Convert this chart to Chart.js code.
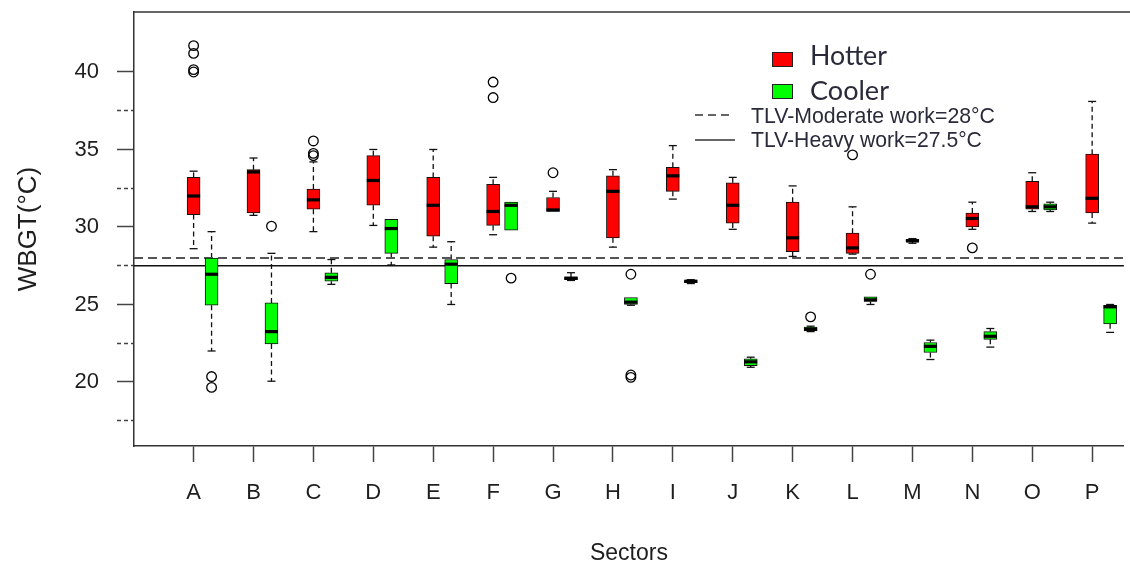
<!DOCTYPE html>
<html><head><meta charset="utf-8">
<script src="https://cdn.jsdelivr.net/npm/chart.js@4.4.1/dist/chart.umd.min.js"></script>
<style>html,body{margin:0;padding:0;background:#fff;}canvas{display:block;}</style>
</head><body>
<canvas id="c" width="1130" height="567"></canvas>
<script>
// ---------- data ----------
const categories = ['A','B','C','D','E','F','G','H','I','J','K','L','M','N','O','P'];

const hotterMin    = [28.6, 30.75, 29.7, 30.1, 28.7, 29.5, 31.0, 28.7, 31.8, 29.85, 28.1, 28.25, 28.95, 29.85, 31.0, 30.25];
const hotterQ1     = [30.8, 30.9, 31.15, 31.4, 29.4, 30.1, 31.0, 29.3, 32.3, 30.25, 28.4, 28.3, 29.05, 30.0, 31.15, 30.9];
const hotterMedian = [32.0, 33.55, 31.75, 33.0, 31.4, 31.0, 31.1, 32.3, 33.3, 31.4, 29.3, 28.65, 29.1, 30.55, 31.3, 31.85];
const hotterQ3     = [33.2, 33.7, 32.45, 34.6, 33.2, 32.75, 31.9, 33.3, 33.85, 32.85, 31.6, 29.6, 29.2, 30.9, 32.95, 34.7];
const hotterMax    = [33.6, 34.45, 34.2, 35.0, 35.0, 33.2, 32.3, 33.7, 35.25, 33.2, 32.65, 31.3, 29.25, 31.6, 33.5, 38.1];
const hotterOutliers = [[41.7, 41.2, 40.15, 40.0], [], [35.55, 34.75, 34.6], [], [], [39.35, 38.35], [33.5], [], [], [], [], [34.65], [], [28.65], [], []];

const coolerMin    = [22.0, 20.05, 26.3, 27.55, 25.0, 29.8, 26.55, 24.95, 26.35, 20.95, 23.25, 25.0, 21.45, 22.25, 31.0, 23.2];
const coolerQ1     = [24.95, 22.45, 26.5, 28.3, 26.35, 29.8, 26.6, 25.0, 26.4, 21.05, 23.3, 25.2, 21.9, 22.75, 31.1, 23.75];
const coolerMedian = [26.95, 23.25, 26.75, 29.9, 27.6, 31.4, 26.7, 25.15, 26.5, 21.3, 23.4, 25.3, 22.3, 22.95, 31.3, 24.85];
const coolerQ3     = [28.0, 25.1, 27.05, 30.5, 27.9, 31.6, 26.75, 25.45, 26.55, 21.5, 23.55, 25.5, 22.55, 23.25, 31.5, 24.95];
const coolerMax    = [29.7, 28.3, 27.9, 30.5, 29.05, 31.6, 27.05, 25.45, 26.6, 21.6, 23.6, 25.5, 22.7, 23.45, 31.6, 25.0];
const coolerOutliers = [[20.35, 19.65], [30.05], [], [], [], [26.7], [], [26.95, 20.45, 20.3], [], [], [24.2], [26.95], [], [], [], []];

const yTickValues = [17.5, 20, 22.5, 25, 27.5, 30, 32.5, 35, 37.5, 40];
const tlvModerate = 28;
const tlvHeavy = 27.5;
const seriesNames = ['Hotter', 'Cooler'];
const tlvLabels = ['TLV-Moderate work=28\u00B0C', 'TLV-Heavy work=27.5\u00B0C'];

// ---------- layout / style ----------
const COOLER_OFFSET = 0.3;
const X_MIN = -0.995, X_MAX = 15.53;
const Y_MIN = 15.87, Y_MAX = 43.87;
const RED = '#FF0000', GREEN = '#00FF00';
const AXIS_COLOR = '#333';
const TEXT_COLOR = '#1e1e1e';
const FONT = "'Liberation Sans', Arial, sans-serif";

const hotterBoxes = categories.map((c, i) => ({x: i, y: [hotterQ1[i], hotterQ3[i]]}));
const coolerBoxes = categories.map((c, i) => ({x: i + COOLER_OFFSET, y: [coolerQ1[i], coolerQ3[i]]}));
const outlierPts = [];
hotterOutliers.forEach((arr, i) => arr.forEach(v => outlierPts.push({x: i, y: v})));
coolerOutliers.forEach((arr, i) => arr.forEach(v => outlierPts.push({x: i + COOLER_OFFSET, y: v})));

const groups = [
  {off: 0, min: hotterMin, med: hotterMedian, q1: hotterQ1, q3: hotterQ3, max: hotterMax},
  {off: COOLER_OFFSET, min: coolerMin, med: coolerMedian, q1: coolerQ1, q3: coolerQ3, max: coolerMax}
];
const BOX_HALF = 6.5, CAP_HALF = 4;

const boxParts = {
  id: 'boxParts',
  beforeDatasetsDraw(chart) {
    const {ctx, scales: {x, y}} = chart;
    ctx.save();
    ctx.strokeStyle = '#111';
    ctx.lineWidth = 1.3;
    groups.forEach(g => {
      categories.forEach((c, i) => {
        const px = x.getPixelForValue(i + g.off);
        const segs = [[g.q3[i], g.max[i]], [g.q1[i], g.min[i]]];
        segs.forEach(([a, b]) => {
          const pa = y.getPixelForValue(a), pb = y.getPixelForValue(b);
          if (Math.abs(pa - pb) < 0.5) return;
          ctx.setLineDash([5, 3.5]);
          ctx.beginPath(); ctx.moveTo(px, pa); ctx.lineTo(px, pb); ctx.stroke();
          ctx.setLineDash([]);
          ctx.beginPath(); ctx.moveTo(px - CAP_HALF, pb); ctx.lineTo(px + CAP_HALF, pb); ctx.stroke();
        });
      });
    });
    ctx.restore();
  },
  afterDatasetsDraw(chart) {
    const {ctx, scales: {x, y}} = chart;
    ctx.save();
    ctx.strokeStyle = '#000';
    ctx.lineWidth = 3.2;
    groups.forEach(g => {
      categories.forEach((c, i) => {
        const px = x.getPixelForValue(i + g.off);
        const py = y.getPixelForValue(g.med[i]);
        ctx.beginPath(); ctx.moveTo(px - BOX_HALF, py); ctx.lineTo(px + BOX_HALF, py); ctx.stroke();
      });
    });
    ctx.restore();
  }
};

function fitFont(ctx, text, family, weight, target, base) {
  ctx.font = `${weight} ${base}px ${family}`;
  const w = ctx.measureText(text).width;
  return base * target / w;
}

const frameAndLegend = {
  id: 'frameAndLegend',
  afterDraw(chart) {
    const {ctx, chartArea} = chart;
    ctx.save();
    // top frame line
    ctx.strokeStyle = AXIS_COLOR; ctx.lineWidth = 1.5;
    ctx.beginPath(); ctx.moveTo(chartArea.left, chartArea.top); ctx.lineTo(chart.width, chartArea.top); ctx.stroke();

    // legend
    const tc = '#2a2a3a';
    ctx.textBaseline = 'middle'; ctx.textAlign = 'left';
    const swatches = [[RED, 52, 56], [GREEN, 84, 91]];
    swatches.forEach(([col, ry, ty], k) => {
      ctx.fillStyle = col; ctx.fillRect(772, ry, 20, 14);
      ctx.strokeStyle = '#222'; ctx.lineWidth = 1; ctx.strokeRect(772.5, ry + 0.5, 20, 14);
      const fs = fitFont(ctx, seriesNames[k], "Lato, 'Open Sans', sans-serif", 'normal', k === 0 ? 77 : 79, 24);
      ctx.font = `${fs}px Lato, 'Open Sans', sans-serif`;
      ctx.fillStyle = tc; ctx.fillText(seriesNames[k], 810, ty);
    });
    ctx.strokeStyle = '#333'; ctx.lineWidth = 1.5;
    ctx.setLineDash([8, 5]);
    ctx.beginPath(); ctx.moveTo(695, 115); ctx.lineTo(734, 115); ctx.stroke();
    ctx.setLineDash([]);
    ctx.beginPath(); ctx.moveTo(695, 140); ctx.lineTo(735, 140); ctx.stroke();
    const targets = [244, 231], ys = [117, 141];
    tlvLabels.forEach((t, k) => {
      const fs = fitFont(ctx, t, FONT, 'normal', targets[k], 17);
      ctx.font = `${fs}px ${FONT}`;
      ctx.fillStyle = tc; ctx.fillText(t, 751, ys[k]);
    });
    ctx.restore();
  }
};

function noPad(s) { s.paddingTop = 0; s.paddingBottom = 0; s.paddingLeft = 0; s.paddingRight = 0; }

new Chart(document.getElementById('c'), {
  type: 'bar',
  data: {
    datasets: [
      {type: 'scatter', label: 'outliers', data: outlierPts, pointStyle: 'circle', radius: 4.8,
       borderColor: '#000', backgroundColor: 'rgba(255,255,255,0)', borderWidth: 1.3, order: 0},
      {label: seriesNames[0], data: hotterBoxes, backgroundColor: RED, borderColor: '#111', borderWidth: 1,
       borderSkipped: false, grouped: false, maxBarThickness: 13, categoryPercentage: 1, barPercentage: 1, order: 1},
      {label: seriesNames[1], data: coolerBoxes, backgroundColor: GREEN, borderColor: '#111', borderWidth: 1,
       borderSkipped: false, grouped: false, maxBarThickness: 13, categoryPercentage: 1, barPercentage: 1, order: 1},
      {type: 'line', label: tlvLabels[0], data: [{x: X_MIN, y: tlvModerate}, {x: X_MAX, y: tlvModerate}],
       borderColor: '#555', borderWidth: 2, borderDash: [9, 5], pointRadius: 0, fill: false, order: 5},
      {type: 'line', label: tlvLabels[1], data: [{x: X_MIN, y: tlvHeavy}, {x: X_MAX, y: tlvHeavy}],
       borderColor: '#111', borderWidth: 1.5, pointRadius: 0, fill: false, order: 5}
    ]
  },
  options: {
    responsive: false,
    animation: false,
    events: [],
    layout: {padding: {top: 12, left: 0, right: 0, bottom: 0}},
    plugins: {legend: {display: false}, tooltip: {enabled: false}},
    scales: {
      x: {
        type: 'linear', min: X_MIN, max: X_MAX, offset: false,
        afterBuildTicks: s => { s.ticks = categories.map((c, i) => ({value: i})); },
        afterFit: s => { s.height = 121; noPad(s); },
        ticks: {autoSkip: false, maxRotation: 0, padding: 18, color: TEXT_COLOR,
                font: {family: FONT, size: 22}, callback: v => categories[Math.round(v)]},
        grid: {offset: false, drawOnChartArea: false, drawTicks: true, tickLength: 16, tickColor: '#444', tickWidth: 1.5},
        border: {display: true, color: AXIS_COLOR, width: 1.5},
        title: {display: true, text: 'Sectors', color: TEXT_COLOR, font: {family: FONT, size: 23}, padding: {top: 0, bottom: 0}}
      },
      y: {
        type: 'linear', min: Y_MIN, max: Y_MAX,
        afterBuildTicks: s => { s.ticks = yTickValues.map(v => ({value: v})); },
        afterFit: s => { s.width = 134; noPad(s); },
        ticks: {padding: 18, color: TEXT_COLOR, font: {family: FONT, size: 22},
                callback: v => (v % 5 === 0 ? String(v) : '')},
        grid: {drawOnChartArea: false, drawTicks: true, tickLength: 17, tickColor: '#444', tickWidth: 1.5,
               tickBorderDash: c => (c.tick && c.tick.value % 5 !== 0) ? [4, 3] : []},
        border: {display: true, color: AXIS_COLOR, width: 1.5},
        title: {display: true, text: 'WBGT(\u00B0C)', color: TEXT_COLOR, font: {family: FONT, size: 26}, padding: {top: 13, bottom: 0}}
      }
    }
  },
  plugins: [boxParts, frameAndLegend]
});
</script>
</body></html>
